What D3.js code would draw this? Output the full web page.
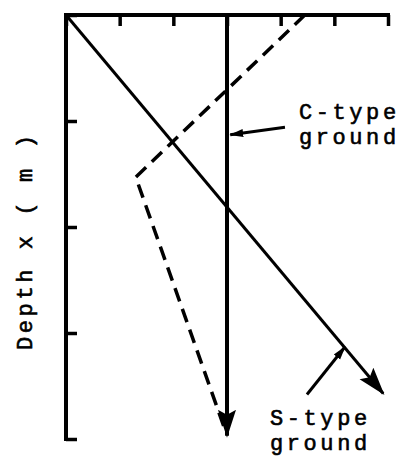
<!DOCTYPE html>
<html>
<head>
<meta charset="utf-8">
<script src="https://cdn.jsdelivr.net/npm/d3@7"></script>
<style>
  body { margin: 0; background: #fff; }
  text { font-family: "Liberation Mono", "Courier New", monospace; font-size: 22px; letter-spacing: 3.6px; fill: #000; stroke: #000; stroke-width: 0.6px; }
</style>
</head>
<body>
<svg id="chart" width="408" height="457"></svg>
<script>
// axis ticks (no numbers printed on the original)
const xTicks = [0, 1, 2, 3, 4, 5, 6];
const depthTicks = [0, 1, 2, 3, 4];

// C-type ground: constant with depth
const cType = [
  { x: 3, d: 0 },
  { x: 3, d: 3.97 }
];
// S-type ground: increases linearly with depth
const sType = [
  { x: 0, d: 0 },
  { x: 5.91, d: 3.57 }
];
// dashed profile
const dashed = [
  { x: 4.45, d: 0 },
  { x: 1.3, d: 1.53 },
  { x: 2.94, d: 3.88 }
];

// labels and pointers, in data units
const labels = [
  { lines: ["C-type", "ground"], x: 4.34, d: [0.98, 1.22] },
  { lines: ["S-type", "ground"], x: 3.8, d: [3.87, 4.1] }
];
const pointers = [
  { from: { x: 4.08, d: 1.06 }, to: { x: 3.06, d: 1.13 } },
  { from: { x: 4.49, d: 3.58 }, to: { x: 5.2, d: 3.13 } }
];

const svg = d3.select("#chart");

const x = d3.scaleLinear().domain([0, 6]).range([66, 388]);
const y = d3.scaleLinear().domain([0, 4]).range([15, 439]);

const defs = svg.append("defs");
// big arrowheads at curve ends
defs.append("marker")
  .attr("id", "bigArrow")
  .attr("markerUnits", "userSpaceOnUse")
  .attr("viewBox", "0 -10 28 20")
  .attr("refX", 26)
  .attr("refY", 0)
  .attr("markerWidth", 28)
  .attr("markerHeight", 20)
  .attr("orient", "auto")
  .append("path")
  .attr("d", "M0,-9L28,0L0,9L5,0Z")
  .attr("fill", "#000");
// small arrowheads on label pointers
defs.append("marker")
  .attr("id", "smallArrow")
  .attr("markerUnits", "userSpaceOnUse")
  .attr("viewBox", "0 -5 14 10")
  .attr("refX", 13)
  .attr("refY", 0)
  .attr("markerWidth", 14)
  .attr("markerHeight", 10)
  .attr("orient", "auto")
  .append("path")
  .attr("d", "M0,-4L14,0L0,4Z")
  .attr("fill", "#000");

// Axes: top axis with ticks pointing down, left axis with ticks pointing right
const topAxis = d3.axisTop(x).tickValues(xTicks).tickSize(-11).tickFormat("");
const gTop = svg.append("g").attr("transform", `translate(0,${y(0)})`).call(topAxis);
gTop.select(".domain").attr("d", `M${x(0)},0H${x(6)}`);

const leftAxis = d3.axisLeft(y).tickValues(depthTicks).tickSize(-11).tickFormat("");
const gLeft = svg.append("g").attr("transform", `translate(${x(0)},0)`).call(leftAxis);
gLeft.select(".domain").attr("d", `M0,${y(0)}V${y(4)}`);

svg.selectAll(".domain").attr("stroke", "#000").attr("stroke-width", 4).attr("stroke-linecap", "square");
svg.selectAll(".tick line").attr("stroke", "#000").attr("stroke-width", 3.5);

const line = d3.line().x((p) => x(p.x)).y((p) => y(p.d));

// S-type (diagonal)
svg.append("path")
  .attr("d", line(sType))
  .attr("fill", "none")
  .attr("stroke", "#000")
  .attr("stroke-width", 3)
  .attr("marker-end", "url(#bigArrow)");

// dashed profile
svg.append("path")
  .attr("d", line(dashed))
  .attr("fill", "none")
  .attr("stroke", "#000")
  .attr("stroke-width", 3.5)
  .attr("stroke-dasharray", "14,8");

// C-type (vertical)
svg.append("path")
  .attr("d", line(cType))
  .attr("fill", "none")
  .attr("stroke", "#000")
  .attr("stroke-width", 4)
  .attr("marker-end", "url(#bigArrow)");

// pointers
svg.selectAll(".pointer")
  .data(pointers)
  .enter()
  .append("line")
  .attr("class", "pointer")
  .attr("x1", (p) => x(p.from.x))
  .attr("y1", (p) => y(p.from.d))
  .attr("x2", (p) => x(p.to.x))
  .attr("y2", (p) => y(p.to.d))
  .attr("stroke", "#000")
  .attr("stroke-width", 3)
  .attr("marker-end", "url(#smallArrow)");

// labels
labels.forEach((l) => {
  l.lines.forEach((t, i) => {
    svg.append("text")
      .attr("x", x(l.x))
      .attr("y", y(l.d[i]))
      .text(t);
  });
});

// y axis title
svg.append("text")
  .attr("transform", `translate(32,${y(2.13)}) rotate(-90)`)
  .attr("text-anchor", "middle")
  .text("Depth x ( m )");
</script>
</body>
</html>
